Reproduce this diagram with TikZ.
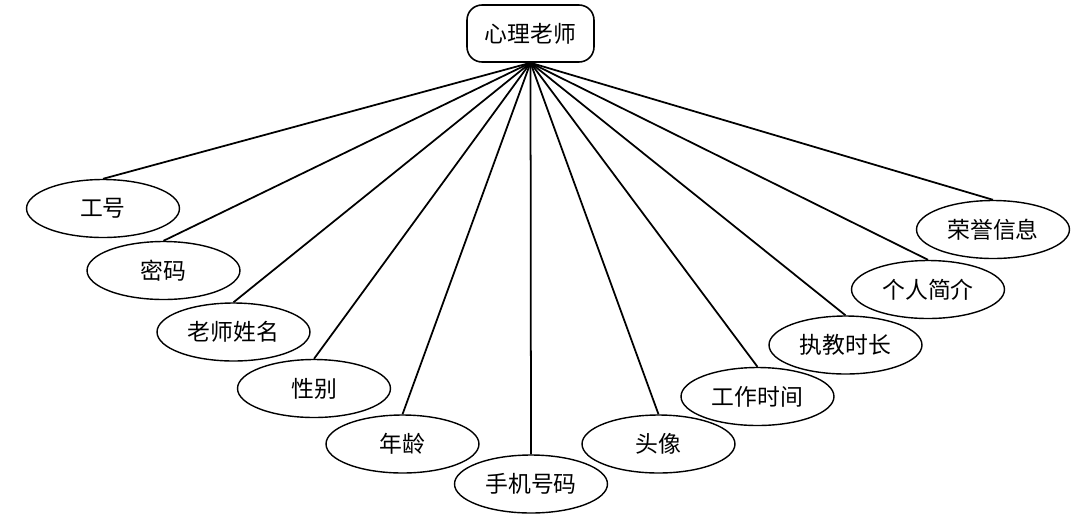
\documentclass[tikz,border=0pt]{standalone}
\usepackage{fontspec}
\newfontfamily\cjk{Noto Sans CJK SC}
\tikzset{
  entity/.style={draw, line width=0.9pt, rounded corners=0.3cm, minimum width=2.54cm, minimum height=1.14cm, font=\cjk\fontsize{13}{15}\selectfont},
  attr/.style={draw, ellipse, line width=0.8pt, minimum width=3.06cm, minimum height=1.16cm, inner sep=0pt, font=\cjk\fontsize{13}{15}\selectfont},
  link/.style={line width=1pt}
}
\usetikzlibrary{shapes.geometric}
\begin{document}
\begin{tikzpicture}[x=0.02cm, y=-0.02cm]
  % frame
  \useasboundingbox (0,0) rectangle (1076,529);

  % teacher
  \node[entity] (teacher) at (530.5,33.5) {心理老师};

  % attributes
  \foreach \n/\x/\y/\txt in {
      gonghao/103/208.5/工号, mima/163.5/270.5/密码, xingming/233.5/332/老师姓名,
      xingbie/314/388.5/性别, nianling/402.5/444/年龄, shouji/531/484/手机号码,
      touxiang/658.5/444/头像, gongzuo/757.5/396.5/工作时间, zhijiao/845.5/345/执教时长,
      jianjie/928/289.5/个人简介, rongyu/993/229.5/荣誉信息} {
    \node[attr] (\n) at (\x,\y) {\txt};
    \draw[link] (teacher.south) -- (\n.north);
  }
\end{tikzpicture}
\end{document}
